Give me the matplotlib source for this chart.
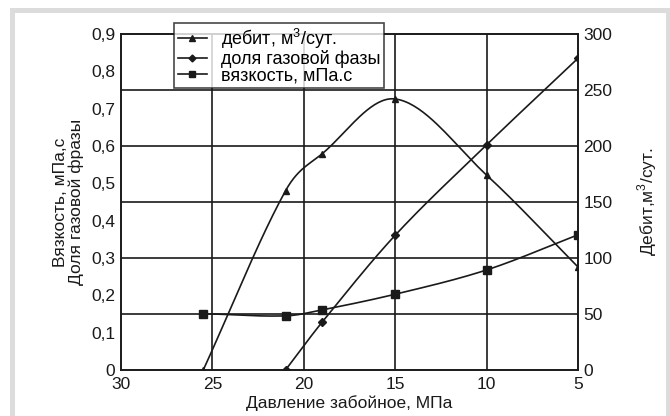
import numpy as np
import matplotlib
matplotlib.use("Agg")
import matplotlib.pyplot as plt
from matplotlib.patches import Rectangle
from matplotlib.lines import Line2D
from matplotlib.ticker import FuncFormatter

plt.rcParams['font.family'] = ['Liberation Sans', 'DejaVu Sans']
plt.rcParams['mathtext.fontset'] = 'custom'
plt.rcParams['mathtext.rm'] = 'Liberation Sans'

# Bottom-hole pressure, MPa
p_debit = [25.5, 21.0, 19.0, 15.0, 10.0, 5.0]
debit = [0, 160, 193, 242, 174, 92]           # m3/day (right axis)

p_gas = [21.0, 19.0, 15.0, 10.0, 5.0]
gas_frac = [0.0, 0.128, 0.361, 0.603, 0.835]  # left axis

p_visc = [25.5, 21.0, 19.0, 15.0, 10.0, 5.0]
visc = [0.151, 0.145, 0.161, 0.203, 0.268, 0.362]  # mPa*s, left axis

x_ticks = [30, 25, 20, 15, 10, 5]
left_ticks = [0, 0.1, 0.2, 0.3, 0.4, 0.5, 0.6, 0.7, 0.8, 0.9]
right_ticks = [0, 50, 100, 150, 200, 250, 300]


def smooth(x, y, n=40):
    """Cardinal (Catmull-Rom style) cubic Hermite curve through the points."""
    x = np.asarray(x, float)
    y = np.asarray(y, float)
    m = np.zeros_like(y)
    m[1:-1] = (y[2:] - y[:-2]) / (x[2:] - x[:-2])
    m[0] = (y[1] - y[0]) / (x[1] - x[0])
    m[-1] = (y[-1] - y[-2]) / (x[-1] - x[-2])
    xs, ys = [], []
    for i in range(len(x) - 1):
        h = x[i + 1] - x[i]
        t = np.linspace(0, 1, n)
        h00 = 2 * t**3 - 3 * t**2 + 1
        h10 = t**3 - 2 * t**2 + t
        h01 = -2 * t**3 + 3 * t**2
        h11 = t**3 - t**2
        xs.append(x[i] + t * h)
        ys.append(h00 * y[i] + h10 * h * m[i] + h01 * y[i + 1] + h11 * h * m[i + 1])
    return np.concatenate(xs), np.concatenate(ys)


W, H = 670, 416
fig = plt.figure(figsize=(W / 100, H / 100), dpi=100)
# grey frame around the drawing area
fig.patches.append(Rectangle((10 / W, -0.1), 1, 1.1 - 8 / H, transform=fig.transFigure,
                             facecolor='#dcdcdc', edgecolor='none', zorder=-10))
fig.patches.append(Rectangle((15 / W, -0.1), (666 - 15) / W, 1.1 - 13 / H, transform=fig.transFigure,
                             facecolor='white', edgecolor='none', zorder=-9))

L, R, T, B = 121, 578, 34, 370
ax = fig.add_axes([L / W, 1 - B / H, (R - L) / W, (B - T) / H])
ax.set_facecolor('none')
ax2 = ax.twinx()

ax.set_xlim(30, 5)
ax.set_ylim(0, 0.9)
ax2.set_ylim(0, 300)

lw = 1.2
c = '#1a1a1a'

xs, ys = smooth(p_debit, debit)
ax2.plot(xs, ys, color=c, lw=lw)
ax2.plot(p_debit, debit, ls='none', marker='^', ms=5, color=c)

xs, ys = smooth(p_gas, gas_frac)
ax.plot(xs, ys, color=c, lw=lw)
ax.plot(p_gas, gas_frac, ls='none', marker='D', ms=4, color=c)

xs, ys = smooth(p_visc, visc)
ax.plot(xs, ys, color=c, lw=lw)
ax.plot(p_visc, visc, ls='none', marker='s', ms=5.5, color=c)

# grid: vertical at x ticks, horizontal at right-axis ticks
for xv in x_ticks[1:-1]:
    ax.axvline(xv, color=c, lw=lw, zorder=0)
for yv in right_ticks[1:-1]:
    ax2.axhline(yv, color=c, lw=lw, zorder=0)

fs = 12.5
ax.set_xticks(x_ticks)
ax.set_yticks(left_ticks)
ax2.set_yticks(right_ticks)
ax.yaxis.set_major_formatter(FuncFormatter(lambda v, _: ('%g' % round(v, 1)).replace('.', ',')))
ax.tick_params(axis='x', length=0, labelsize=fs, pad=5, colors=c)
ax.tick_params(axis='y', length=0, labelsize=fs, pad=4, colors=c)
ax2.tick_params(axis='y', length=0, labelsize=fs, pad=4, colors=c)
for a in (ax, ax2):
    for s in a.spines.values():
        s.set_color(c)
        s.set_linewidth(lw)

ax.set_xlabel('Давление забойное, МПа', fontsize=fs, labelpad=2, color=c)
ax.set_ylabel('Вязкость, мПа,с\nДоля газовой фразы', fontsize=fs, labelpad=5,
              linespacing=1.05, color=c)
ax2.set_ylabel('Дебит,м$^3$/сут.', fontsize=fs, labelpad=16, color=c)

handles = [
    Line2D([], [], color=c, lw=lw, marker='^', ms=4),
    Line2D([], [], color=c, lw=lw, marker='D', ms=3.5),
    Line2D([], [], color=c, lw=lw, marker='s', ms=4),
]
labels = ['дебит, м$^3$/сут.', 'доля газовой фазы', 'вязкость, мПа.с']
leg = fig.legend(handles, labels, loc='upper left', bbox_to_anchor=(174 / W, 1 - 23 / H),
                 borderaxespad=0, fontsize=13, frameon=True, fancybox=False,
                 handlelength=1.6, handletextpad=0.8, labelspacing=-0.04,
                 borderpad=0.2)
leg.get_frame().set_edgecolor(c)
leg.get_frame().set_linewidth(lw)
leg.set_zorder(10)

fig.savefig('out.png', dpi=100)
